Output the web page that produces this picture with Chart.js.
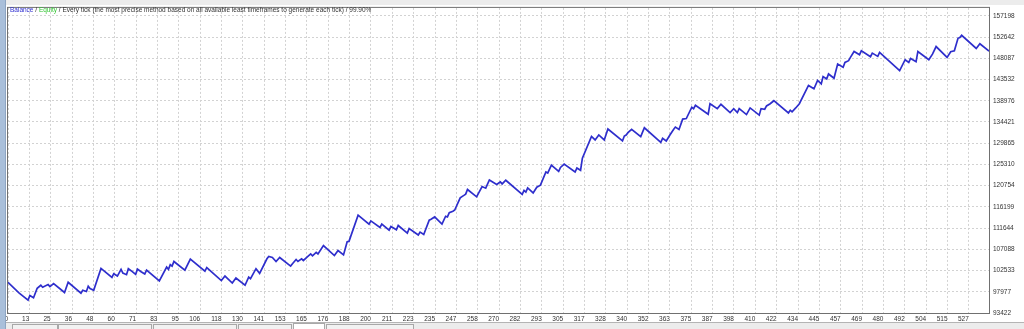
<!DOCTYPE html>
<html>
<head>
<meta charset="utf-8">
<script src="https://cdn.jsdelivr.net/npm/chart.js@4.4.1/dist/chart.umd.min.js"></script>
<style>
html, body { margin: 0; padding: 0; background: #fff; }
#wrap { position: relative; width: 1024px; height: 329px; overflow: hidden; background: #fff; }
#topband { position: absolute; left: 0; top: 0; width: 1024px; height: 5px; background: #ececec; }
#leftband { position: absolute; left: 0; top: 0; width: 5px; height: 329px; background: #a9bfda; border-right: 1px solid #8ea5c2; }
canvas { position: absolute; left: 0; top: 0; }
#title { position: absolute; left: 10px; top: 6px; font: 6.5px "Liberation Sans", sans-serif; color: #333; white-space: nowrap; }
#title .bal { color: #3030d0; }
#title .eq { color: #2fc42f; }
#tabs { position: absolute; left: 6px; top: 322px; width: 1018px; height: 7px; background: #ececec; border-top: 1px solid #b4b4b4; }
.tab { position: absolute; top: 1px; height: 6px; border: 1px solid #a8a8a8; border-bottom: none; background: #f2f2f2; }
.tab.sel { background: #fff; top: 0; }
</style>
</head>
<body>
<div id="wrap">
  <canvas id="chart" width="1024" height="329"></canvas>
  <div id="topband"></div>
  <div id="leftband"></div>
  <div id="title"><span class="bal">Balance</span> / <span class="eq">Equity</span> / Every tick (the most precise method based on all available least timeframes to generate each tick) / 99.90%</div>
  <div id="tabs">
    <div class="tab" style="left:6px;width:44px"></div>
    <div class="tab" style="left:52px;width:92px"></div>
    <div class="tab" style="left:147px;width:82px"></div>
    <div class="tab" style="left:232px;width:52px"></div>
    <div class="tab sel" style="left:287px;width:30px"></div>
    <div class="tab" style="left:320px;width:86px"></div>
  </div>
</div>
<script>
// trade number / balance
const tradeNo = [0, 6, 11, 12, 14, 16, 18, 19, 22, 23, 25, 31, 33, 40, 41, 43, 44, 45, 47, 51,
  57, 58, 60, 62, 63, 65, 66, 68, 70, 71, 73, 75, 76, 83, 87, 88, 89, 90, 91, 97,
  100, 108, 109, 117, 119, 123, 125, 130, 132, 133, 136, 138, 142, 143, 145, 147, 149, 155, 156, 158,
  159, 161, 162, 164, 166, 167, 169, 170, 173, 179, 181, 184, 186, 187, 192, 198, 199, 204, 205, 209,
  210, 213, 214, 219, 220, 225, 226, 228, 231, 232, 234, 238, 240, 241, 242, 244, 245, 248, 250, 251,
  252, 257, 260, 262, 264, 268, 270, 271, 273, 282, 283, 284, 285, 288, 290, 292, 295, 296, 298, 302,
  303, 305, 311, 312, 314, 315, 320, 322, 324, 327, 329, 337, 338, 339, 340, 342, 347, 349, 358, 359,
  361, 363, 365, 366, 368, 370, 372, 375, 376, 377, 384, 385, 389, 391, 396, 398, 400, 401, 405, 407,
  412, 413, 415, 416, 418, 420, 428, 429, 430, 432, 434, 439, 442, 444, 446, 447, 449, 450, 453, 455,
  458, 459, 461, 462, 464, 467, 468, 473, 474, 477, 478, 489, 492, 494, 495, 498, 499, 505, 507, 509,
  515, 517, 519, 521, 522, 523, 531, 533, 538];
const balance = [100000, 97740, 96190, 97190, 96680, 98740, 99380, 98950, 99520, 99100, 99740, 97820, 100010, 97670, 98310, 98040, 99160, 98670, 98310, 102990,
  101080, 101860, 101350, 102780, 101990, 101650, 102930, 102350, 101710, 102840, 102290, 101780, 102630, 100290, 103270, 102780, 103780, 103480, 104480, 102630,
  104970, 102420, 103140, 100370, 101350, 99860, 100930, 99380, 101140, 100800, 102930, 101930, 105050, 105540, 105330, 104480, 105330, 103480, 103990, 104900,
  104480, 105050, 104690, 105390, 106110, 105690, 106450, 106110, 107880, 105750, 106820, 105900, 108730, 108790, 114410, 112490, 113190, 111770, 112490, 111220,
  111980, 111280, 112200, 110580, 111560, 110150, 110790, 110280, 113340, 113560, 114040, 112490, 114190, 114040, 114960, 115260, 115530, 118150, 118660, 118930,
  119930, 118360, 120570, 120210, 121970, 121000, 121550, 121120, 121910, 118870, 119720, 119360, 120270, 119210, 120420, 120850, 123680, 123460, 125160, 123820,
  124670, 125380, 123680, 124530, 124040, 126650, 131330, 130560, 131630, 130560, 132900, 130350, 131410, 131630, 132120, 132820, 131270, 133180, 130050, 130900,
  130350, 131630, 132820, 133330, 132820, 135030, 135160, 137580, 137280, 138000, 136090, 138340, 137280, 138220, 136430, 137280, 136430, 137280, 136010, 137430,
  135880, 137280, 137150, 137860, 138340, 138980, 136370, 136940, 136580, 137430, 138340, 142260, 141530, 143320, 142600, 144170, 143660, 144720, 143810, 146850,
  146150, 147210, 147570, 148270, 149550, 148850, 149700, 148420, 149190, 148490, 149340, 145450, 147780, 147210, 148060, 147360, 149550, 147780, 148970, 150610,
  148270, 149490, 149700, 152380, 152530, 153010, 150190, 151190, 149610];

const xTickLabels = [0, 13, 25, 36, 48, 60, 71, 83, 95, 106, 118, 130, 141, 153, 165, 176, 188, 200, 211, 223,
  235, 247, 258, 270, 282, 293, 305, 317, 328, 340, 352, 363, 375, 387, 398, 410, 422, 434, 445, 457,
  469, 480, 492, 504, 515, 527];
const yTickValues = [93422, 97977, 102533, 107088, 111644, 116199, 120754, 125310, 129865, 134421,
  138976, 143532, 148087, 152642, 157198];

const X_MAX = 538;
const X_STEP = 11.71;
const Y_MIN = 93422;
const Y_MAX = 158900;

const framePlugin = {
  id: 'frame',
  afterDraw(chart) {
    const a = chart.chartArea, ctx = chart.ctx;
    ctx.save();
    ctx.strokeStyle = '#707070';
    ctx.lineWidth = 1;
    ctx.strokeRect(a.left - 0.5, a.top - 0.5, a.right - a.left + 1, a.bottom - a.top + 1);
    ctx.restore();
  }
};

Chart.defaults.font.family = '"Liberation Sans", sans-serif';
Chart.defaults.font.size = 6.5;
Chart.defaults.color = '#333';

new Chart(document.getElementById('chart'), {
  type: 'line',
  data: {
    datasets: [{
      data: tradeNo.map((t, i) => ({ x: t, y: balance[i] })),
      borderColor: '#2e2ecc',
      borderWidth: 1.7,
      pointRadius: 0,
      tension: 0,
      fill: false
    }]
  },
  options: {
    responsive: false,
    animation: false,
    devicePixelRatio: 1,
    layout: { padding: { left: 8, top: 5, right: 0, bottom: 0 } },
    plugins: { legend: { display: false }, tooltip: { enabled: false } },
    scales: {
      x: {
        type: 'linear',
        min: 0,
        max: X_MAX,
        afterBuildTicks: s => { s.ticks = xTickLabels.map((l, i) => ({ value: i * X_STEP })); },
        afterFit: s => { s.height = 16; },
        ticks: {
          autoSkip: false,
          maxRotation: 0,
          align: 'end',
          padding: 2,
          callback: (v, i) => String(xTickLabels[i])
        },
        grid: { color: '#d2d2d2', drawTicks: false },
        border: { display: false, dash: [2, 2] }
      },
      y: {
        position: 'right',
        min: Y_MIN,
        max: Y_MAX,
        afterBuildTicks: s => { s.ticks = yTickValues.map(v => ({ value: v })); },
        afterFit: s => { s.width = 35; },
        ticks: {
          autoSkip: false,
          padding: 4,
          callback: v => String(v)
        },
        grid: { color: '#d2d2d2', drawTicks: false },
        border: { display: false, dash: [2, 2] }
      }
    }
  },
  plugins: [framePlugin]
});
</script>
</body>
</html>
